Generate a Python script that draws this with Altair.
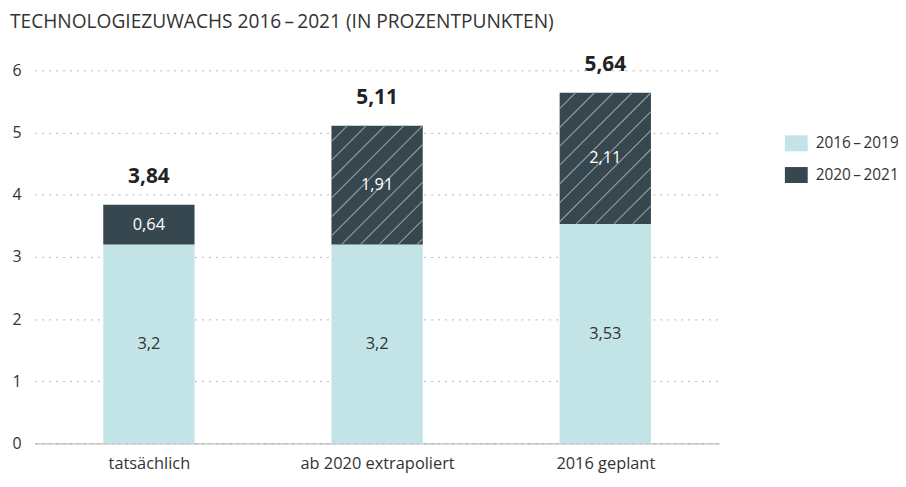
import altair as alt
import pandas as pd

categories = ["tatsächlich", "ab 2020 extrapoliert", "2016 geplant"]
base_vals = [3.2, 3.2, 3.53]
add_vals = [0.64, 1.91, 2.11]
totals = [3.84, 5.11, 5.64]
hatched = [False, True, True]
series = ["2016\u2009–\u20092019", "2020\u2009–\u20092021"]
colors = ["#c3e4e6", "#36474f"]

FONT = "Open Sans"
W, H = 690, 376
YMAX = 6
PX_X = W / 3.0
PX_Y = H / YMAX
HALF = 0.2

def fmt(v):
    s = ("%.2f" % v).rstrip("0").rstrip(".")
    return s.replace(".", ",")

rows = []
for i, c in enumerate(categories):
    xc = i + 0.5
    rows.append(dict(x0=xc - HALF, x1=xc + HALF, y0=0, y1=base_vals[i], ym=base_vals[i] / 2,
                     xc=xc, series=series[0], label=fmt(base_vals[i]), tcol="#333333"))
    rows.append(dict(x0=xc - HALF, x1=xc + HALF, y0=base_vals[i], y1=totals[i],
                     ym=base_vals[i] + add_vals[i] / 2, xc=xc, series=series[1],
                     label=fmt(add_vals[i]), tcol="#ffffff"))
bars = pd.DataFrame(rows)
tot = pd.DataFrame(dict(xc=[i + 0.5 for i in range(3)], total=totals, label=[fmt(t) for t in totals]))

# hatch segments (decorative) derived from the bar rectangles
hrows = []
spacing = 19.0
for i in range(3):
    if not hatched[i]:
        continue
    xc = i + 0.5
    X0, X1 = (xc - HALF) * PX_X, (xc + HALF) * PX_X
    Y0, Y1 = base_vals[i] * PX_Y, totals[i] * PX_Y
    c = X0 - Y1 - 3
    while c < X1 - Y0:
        xa = max(X0, Y0 + c)
        xb = min(X1, Y1 + c)
        if xb > xa:
            hrows.append(dict(hx=xa / PX_X, hy=(xa - c) / PX_Y, hx2=xb / PX_X, hy2=(xb - c) / PX_Y))
        c += spacing
hatch = pd.DataFrame(hrows)

label_expr = " : ".join(
    ["datum.value == %s ? '%s'" % (i + 0.5, c) for i, c in enumerate(categories)]) + " : ''"

xscale = alt.Scale(domain=[0, 3], nice=False, zero=False)
yscale = alt.Scale(domain=[0, YMAX], nice=False)

rect = alt.Chart(bars).mark_rect().encode(
    x=alt.X("x0:Q", scale=xscale, axis=alt.Axis(values=[0.5, 1.5, 2.5], labelExpr=label_expr,
            title=None, ticks=False, grid=False, domain=True, domainColor="#aaaaaa",
            labelFontSize=16.5, labelPadding=12, labelColor="#333333", labelFont=FONT)),
    x2="x1:Q",
    y=alt.Y("y0:Q", scale=yscale, axis=alt.Axis(values=list(range(0, 7)), format="d", title=None,
            ticks=False, domain=False, grid=True, gridDash=[2, 5], gridColor="#b5b5b5", gridWidth=1,
            labelFontSize=16, labelPadding=23, labelAlign="left", labelColor="#333333", labelFont=FONT)),
    y2="y1:Q",
    color=alt.Color("series:N", scale=alt.Scale(domain=series, range=colors),
                    legend=alt.Legend(title=None, orient="none", legendX=756, legendY=62,
                                      symbolType="M-1,-0.7L1,-0.7L1,0.7L-1,0.7Z", symbolSize=529,
                                      symbolStrokeWidth=0, rowPadding=12, labelOffset=8,
                                      labelFontSize=15.5, labelColor="#333333", labelFont=FONT)),
)

hatch_layer = alt.Chart(hatch).mark_rule(color="#8d999e", strokeWidth=1.2).encode(
    x=alt.X("hx:Q", scale=xscale), y=alt.Y("hy:Q", scale=yscale),
    x2="hx2:Q", y2="hy2:Q",
)

seg_text = alt.Chart(bars).mark_text(fontSize=16.5, font=FONT, baseline="middle").encode(
    x=alt.X("xc:Q", scale=xscale), y=alt.Y("ym:Q", scale=yscale),
    text="label:N", color=alt.Color("tcol:N", scale=None),
)

tot_text = alt.Chart(tot).mark_text(fontSize=21, font=FONT, fontWeight="bold", baseline="middle",
                                    dy=-28, color="#222222").encode(
    x=alt.X("xc:Q", scale=xscale), y=alt.Y("total:Q", scale=yscale), text="label:N",
)

chart = alt.layer(rect, hatch_layer, seg_text, tot_text).properties(
    width=W, height=H,
    autosize=alt.AutoSizeParams(type="none"),
    padding={"left": 27, "top": 61, "right": 180, "bottom": 32},
    background="white",
    title=alt.Title("TECHNOLOGIEZUWACHS 2016\u2009–\u20092021 (IN PROZENTPUNKTEN)", anchor="start",
                    fontSize=19.3, font=FONT, fontWeight="normal", color="#333333", offset=22,
                    frame="group", dx=-25),
).configure_view(stroke=None)

chart.save("out.html", embed_options={"renderer": "svg", "actions": False})
